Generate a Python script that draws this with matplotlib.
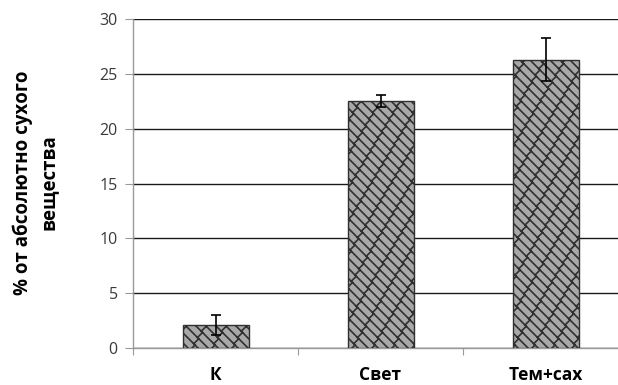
import warnings
import numpy as np
import matplotlib
matplotlib.use("Agg")
import matplotlib.pyplot as plt
from matplotlib import hatch as mhatch
from matplotlib.path import Path

warnings.filterwarnings("ignore")

categories = ["К", "Свет", "Тем+сах"]
values = [2.1, 22.5, 26.3]
errors = [0.9, 0.55, 1.95]
y_ticks = [0, 5, 10, 15, 20, 25, 30]
y_label = "% от абсолютно сухого\nвещества"


class BrickHatch(mhatch.HatchPatternBase):
    """Diagonal brick pattern, selected by the letter 'z' in a hatch string."""

    def __init__(self, hatch, density):
        self.segs = []
        if "z" in hatch:
            n, m = 10, 8
            # long mortar lines (the renderer flips y, so build them as '\')
            for k in range(-n, n + 1):
                self.segs.append(((k / n, 1.0), (k / n + 1.0, 0.0)))
            # short joints between neighbouring lines, staggered row by row
            for k in range(-n, n + 1):
                off = 0.5 / m if k % 2 else 0.0
                for j in range(-m, m + 1):
                    s = j / m + off
                    x0, y0 = k / n + s, 1.0 - s
                    x1, y1 = x0 + 0.5 / n, y0 + 0.5 / n
                    if (min(x0, x1) > -0.2 and max(x0, x1) < 1.2
                            and min(y0, y1) > -0.2 and max(y0, y1) < 1.2):
                        self.segs.append(((x0, y0), (x1, y1)))
        self.num_vertices = 2 * len(self.segs)

    def set_vertices_and_codes(self, vertices, codes):
        for i, (a, b) in enumerate(self.segs):
            vertices[2 * i] = a
            vertices[2 * i + 1] = b
            codes[2 * i] = Path.MOVETO
            codes[2 * i + 1] = Path.LINETO


mhatch._hatch_types.append(BrickHatch)

plt.rcParams["font.family"] = ["Open Sans", "DejaVu Sans"]
plt.rcParams["path.simplify"] = False
plt.rcParams["hatch.linewidth"] = 1.2
plt.rcParams["hatch.color"] = "#1e1e1e"

fig = plt.figure(figsize=(6.18, 3.85), dpi=100)
ax = fig.add_axes([133 / 618, 37 / 385, 495 / 618, 329 / 385])

x = np.arange(len(categories))
ax.bar(x, values, width=0.4, color="#a8a8a8", edgecolor="#303030",
       linewidth=1.0, hatch="z", zorder=3)
ax.errorbar(x, values, yerr=errors, fmt="none", ecolor="black",
            elinewidth=1.2, capsize=3.6, capthick=1.2, zorder=4)

ax.set_xlim(-0.5, len(categories) - 0.5)
ax.set_ylim(0, 30)
ax.set_yticks(y_ticks)
ax.set_xticks([-0.5, 0.5, 1.5, 2.5])
ax.set_xticklabels([])
ax.set_xticks(x, minor=True)
ax.set_xticklabels(categories, minor=True, fontweight="bold", fontsize=12.5)
ax.tick_params(axis="x", which="minor", length=0, pad=13)
ax.tick_params(axis="x", which="major", length=5, color="#999999")
ax.tick_params(axis="y", length=6, color="#999999", labelsize=11.5,
               labelcolor="#3a3a3a", pad=5)

ax.yaxis.grid(True, color="#1a1a1a", linewidth=1.0)
ax.set_axisbelow(True)
for side in ("top", "right"):
    ax.spines[side].set_visible(False)
for side in ("left", "bottom"):
    ax.spines[side].set_color("#999999")
    ax.spines[side].set_linewidth(1.0)

fig.text(0.058, 0.526, y_label, rotation=90, ha="center", va="center",
         fontweight="bold", fontsize=13.5, multialignment="center",
         linespacing=1.4)

fig.savefig("out.png", dpi=100)
